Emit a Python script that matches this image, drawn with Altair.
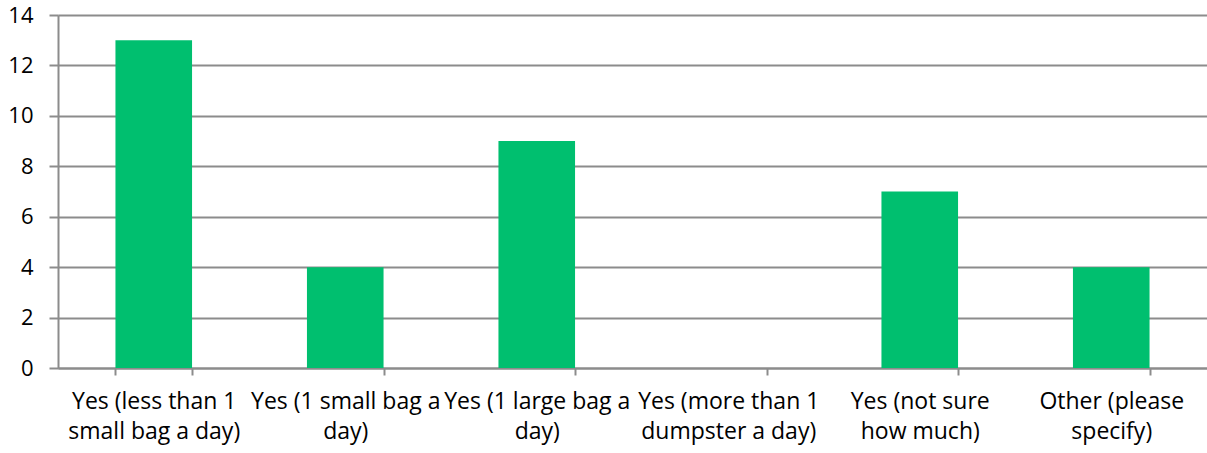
import altair as alt
import pandas as pd

# Responses and their counts
categories = [
    "Yes (less than 1\nsmall bag a day)",
    "Yes (1 small bag a\nday)",
    "Yes (1 large bag a\nday)",
    "Yes (more than 1\ndumpster a day)",
    "Yes (not sure\nhow much)",
    "Other (please\nspecify)",
]
counts = [13, 4, 9, 0, 7, 4]
y_ticks = [0, 2, 4, 6, 8, 10, 12, 14]

df = pd.DataFrame({"category": categories, "count": counts})

GRID = "#8c8c8c"
FONT = "Open Sans"

chart = (
    alt.Chart(df)
    .mark_bar(color="#00BF6F")
    .encode(
        x=alt.X(
            "category:N",
            sort=categories,
            title=None,
            scale=alt.Scale(paddingInner=0.6, paddingOuter=0.3),
            axis=alt.Axis(
                labelExpr="isValid(datum.value) ? split(datum.value, '\\n') : ''",
                labelAngle=0,
                labelFont=FONT,
                labelFontSize=23,
                labelColor="#000000",
                labelLineHeight=30,
                labelPadding=15,
                labelLimit=0,
                tickBand="extent",
                tickSize=7,
                tickWidth=2,
                tickColor=GRID,
                domainColor=GRID,
                domainWidth=2,
                grid=False,
            ),
        ),
        y=alt.Y(
            "count:Q",
            title=None,
            scale=alt.Scale(domain=[0, 14], nice=False),
            axis=alt.Axis(
                values=y_ticks,
                labelFont=FONT,
                labelFontSize=22,
                labelColor="#000000",
                labelPadding=16,
                tickSize=9,
                tickWidth=2,
                tickColor=GRID,
                domainColor=GRID,
                domainWidth=2,
                grid=True,
                gridColor=GRID,
                gridWidth=2,
            ),
        ),
    )
    .properties(
        width=1149,
        height=353,
        autosize=alt.AutoSizeParams(type="none"),
        padding={"left": 58, "top": 15, "right": 0, "bottom": 85},
    )
    .configure_view(stroke=None)
    .configure(background="white")
)

chart.save("out.html", embed_options={"renderer": "svg", "actions": False})
